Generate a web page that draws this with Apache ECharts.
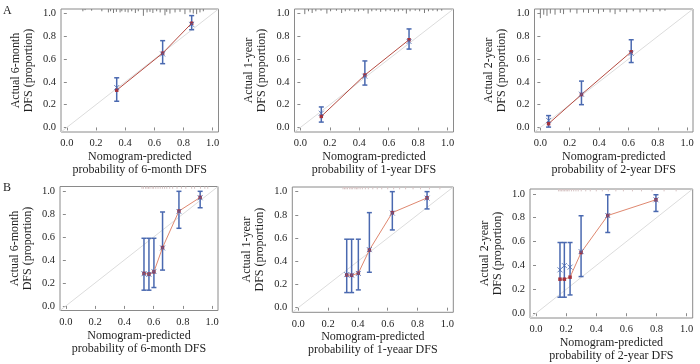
<!DOCTYPE html>
<html><head><meta charset="utf-8">
<script src="https://cdn.jsdelivr.net/npm/echarts@6/dist/echarts.min.js"></script>
<style>html,body{margin:0;padding:0;background:#fff}#c{width:700px;height:364px}</style>
</head><body><div id="c"></div>
<script>
// ---- tick labels / titles ----
const tickValues = [0, 0.2, 0.4, 0.6, 0.8, 1.0];
const axisRange = [-0.04, 1.04];
const yTitles = ['Actual 6-month\nDFS (proportion)', 'Actual 1-year\nDFS (proportion)', 'Actual 2-year\nDFS (proportion)',
                 'Actual 6-month\nDFS (proportion)', 'Actual 1-year\nDFS (proportion)', 'Actual 2-year\nDFS (proportion)'];
const xTitles = ['Nomogram-predicted\nprobability of 6-month DFS', 'Nomogram-predicted\nprobability of 1-year DFS', 'Nomogram-predicted\nprobability of 2-year DFS',
                 'Nomogram-predicted\nprobability of 6-month DFS', 'Nomogram-predicted\nprobability of 1-yeaar DFS', 'Nomogram-predicted\nprobability of 2-year DFS'];

// ---- A: 6-month ----
const a6Pred = [0.342, 0.657, 0.856];
const a6Obs  = [0.327, 0.652, 0.915];
const a6Corr = [0.350, 0.645, 0.905];
const a6Lo   = [0.230, 0.560, 0.858];
const a6Hi   = [0.436, 0.762, 0.982];
// ---- A: 1-year ----
const a1Pred = [0.142, 0.438, 0.738];
const a1Obs  = [0.097, 0.460, 0.770];
const a1Corr = [0.125, 0.450, 0.755];
const a1Lo   = [0.047, 0.372, 0.688];
const a1Hi   = [0.180, 0.584, 0.865];
// ---- A: 2-year ----
const a2Pred = [0.056, 0.280, 0.619];
const a2Obs  = [0.033, 0.289, 0.664];
const a2Corr = [0.062, 0.292, 0.652];
const a2Lo   = [0.003, 0.200, 0.570];
const a2Hi   = [0.104, 0.407, 0.770];
// ---- B: 6-month ----
const b6Pred = [0.534, 0.568, 0.602, 0.661, 0.773, 0.918];
const b6Obs  = [0.283, 0.277, 0.297, 0.508, 0.826, 0.945];
const b6Corr = [0.280, 0.275, 0.300, 0.505, 0.822, 0.942];
const b6Lo   = [0.137, 0.137, 0.160, 0.312, 0.676, 0.855];
const b6Hi   = [0.589, 0.589, 0.589, 0.818, 0.998, 0.998];
// ---- B: 1-year ----
const b1Pred = [0.325, 0.358, 0.403, 0.477, 0.631, 0.864];
const b1Obs  = [0.282, 0.279, 0.297, 0.497, 0.819, 0.946];
const b1Corr = [0.285, 0.280, 0.295, 0.500, 0.815, 0.944];
const b1Lo   = [0.130, 0.130, 0.153, 0.305, 0.670, 0.851];
const b1Hi   = [0.590, 0.590, 0.590, 0.819, 1.000, 1.000];
// ---- B: 2-year ----
const b2Pred = [0.159, 0.188, 0.226, 0.299, 0.476, 0.796];
const b2Obs  = [0.285, 0.285, 0.302, 0.508, 0.818, 0.950];
const b2Corr = [0.363, 0.399, 0.386, 0.516, 0.818, 0.950];
const b2Lo   = [0.134, 0.134, 0.153, 0.307, 0.676, 0.852];
const b2Hi   = [0.592, 0.592, 0.592, 0.816, 0.992, 0.992];

// ---- rug / frequency spikes at top: [predicted, spike length] ----
const rugA6 = [[0.11,0.02],[0.125,0.01],[0.17,0.015],[0.24,0.02],[0.285,0.03],[0.30,0.02],[0.32,0.035],[0.34,0.025],[0.365,0.03],[0.377,0.02],
  [0.40,0.025],[0.42,0.03],[0.445,0.02],[0.47,0.035],[0.49,0.02],[0.525,0.06],[0.55,0.03],[0.57,0.025],[0.59,0.035],[0.616,0.02],
  [0.64,0.03],[0.673,0.055],[0.685,0.025],[0.707,0.04],[0.742,0.03],[0.776,0.025],[0.81,0.045],[0.845,0.03],[0.867,0.04],[0.89,0.045],[0.913,0.03],[0.936,0.02]];
const rugA1 = [[0.03,0.045],[0.055,0.02],[0.08,0.035],[0.105,0.02],[0.14,0.015],[0.18,0.04],[0.205,0.02],[0.245,0.015],[0.28,0.035],[0.305,0.02],
  [0.335,0.015],[0.37,0.025],[0.395,0.02],[0.43,0.015],[0.46,0.04],[0.485,0.02],[0.515,0.015],[0.545,0.025],[0.58,0.02],[0.61,0.015],
  [0.64,0.025],[0.665,0.02],[0.695,0.015],[0.72,0.04],[0.745,0.02],[0.78,0.015],[0.81,0.02],[0.843,0.035],[0.87,0.02],[0.9,0.015],[0.93,0.02],[0.96,0.015]];
const rugA2 = [[0.0,0.08],[0.023,0.05],[0.045,0.06],[0.068,0.04],[0.10,0.05],[0.136,0.035],[0.158,0.045],[0.204,0.03],[0.249,0.04],[0.294,0.03],
  [0.328,0.035],[0.362,0.025],[0.396,0.04],[0.43,0.025],[0.475,0.03],[0.509,0.045],[0.543,0.025],[0.588,0.03],[0.633,0.02],[0.679,0.03],
  [0.724,0.02],[0.769,0.025],[0.815,0.02],[0.849,0.015]];
const rugB6 = [[0.52,0.02],[0.53,0.02],[0.545,0.02],[0.555,0.02],[0.565,0.02],[0.575,0.02],[0.59,0.02],[0.60,0.02],[0.615,0.02],[0.63,0.02],
  [0.645,0.02],[0.66,0.02],[0.675,0.02],[0.69,0.02],[0.71,0.02],[0.73,0.02],[0.76,0.02],[0.79,0.02],[0.82,0.02],[0.86,0.02],[0.88,0.02],[0.92,0.02],[0.95,0.02],[0.97,0.02]];
const rugB1 = [[0.30,0.02],[0.31,0.02],[0.32,0.02],[0.33,0.02],[0.345,0.02],[0.355,0.02],[0.365,0.02],[0.38,0.02],[0.39,0.02],[0.40,0.02],
  [0.415,0.02],[0.43,0.02],[0.45,0.02],[0.47,0.02],[0.50,0.02],[0.53,0.02],[0.56,0.02],[0.60,0.02],[0.64,0.02],[0.68,0.02],[0.72,0.02],[0.77,0.02],[0.82,0.02],[0.88,0.02],[0.95,0.02]];
const rugB2 = [[0.15,0.02],[0.16,0.02],[0.17,0.02],[0.18,0.02],[0.19,0.02],[0.20,0.02],[0.21,0.02],[0.22,0.02],[0.235,0.02],[0.25,0.02],
  [0.265,0.02],[0.28,0.02],[0.30,0.02],[0.33,0.02],[0.36,0.02],[0.40,0.02],[0.44,0.02],[0.48,0.02],[0.53,0.02],[0.58,0.02],[0.64,0.02],[0.70,0.02],[0.77,0.02],[0.85,0.02],[0.93,0.02]];

// ---- layout (px) ----
const grids = [
  {left: 61,    top: 9,   width: 157.5, height: 123},
  {left: 294.5, top: 9,   width: 159,   height: 123},
  {left: 534.5, top: 9,   width: 158.5, height: 123},
  {left: 60,    top: 186.5, width: 158,   height: 124},
  {left: 292.3, top: 187,   width: 161,   height: 125.3},
  {left: 530,   top: 189,   width: 162.7, height: 129}
];
const panels = [
  {pred:a6Pred, obs:a6Obs, corr:a6Corr, lo:a6Lo, hi:a6Hi, rug:rugA6, row:'A'},
  {pred:a1Pred, obs:a1Obs, corr:a1Corr, lo:a1Lo, hi:a1Hi, rug:rugA1, row:'A'},
  {pred:a2Pred, obs:a2Obs, corr:a2Corr, lo:a2Lo, hi:a2Hi, rug:rugA2, row:'A'},
  {pred:b6Pred, obs:b6Obs, corr:b6Corr, lo:b6Lo, hi:b6Hi, rug:rugB6, row:'B'},
  {pred:b1Pred, obs:b1Obs, corr:b1Corr, lo:b1Lo, hi:b1Hi, rug:rugB1, row:'B'},
  {pred:b2Pred, obs:b2Obs, corr:b2Corr, lo:b2Lo, hi:b2Hi, rug:rugB2, row:'B'}
];

const FONT = "'Liberation Serif','Times New Roman',serif";
const TXT = '#1e1e1e';
const BOX = '#8a8a8a';
const BLUE = '#4a69b0';

const chart = echarts.init(document.getElementById('c'), null, {renderer: 'canvas'});
const option = {
  backgroundColor: '#fff',
  animation: false,
  grid: grids.map(g => Object.assign({show: true, borderColor: BOX, borderWidth: 1, backgroundColor: 'transparent', containLabel: false}, g)),
  xAxis: [], yAxis: [], series: [],
  graphic: [
    {type: 'text', left: 3, top: 5, style: {text: 'A', font: "12px " + FONT, fill: TXT}},
    {type: 'text', left: 3, top: 182, style: {text: 'B', font: "12px " + FONT, fill: TXT}}
  ]
};

panels.forEach((p, i) => {
  const rowB = p.row === 'B';
  option.xAxis.push({
    gridIndex: i, type: 'value', min: axisRange[0], max: axisRange[1],
    axisLine: {show: false}, splitLine: {show: false},
    axisTick: {show: true, customValues: tickValues, length: 3, lineStyle: {color: BOX}},
    axisLabel: {customValues: tickValues, formatter: v => v.toFixed(1), margin: 6, fontFamily: FONT, fontSize: 10.5, color: TXT},
    name: xTitles[i], nameLocation: 'middle', nameGap: (i === 5 ? 17 : 18.5),
    nameTextStyle: {fontFamily: FONT, fontSize: 12, color: TXT, lineHeight: 13}
  });
  option.yAxis.push({
    gridIndex: i, type: 'value', min: axisRange[0], max: axisRange[1],
    axisLine: {show: false}, splitLine: {show: false},
    axisTick: {show: true, customValues: tickValues, length: 3, lineStyle: {color: BOX}},
    axisLabel: {customValues: tickValues, formatter: v => v.toFixed(1), margin: 5, fontFamily: FONT, fontSize: 10.5, color: TXT},
    name: yTitles[i], nameLocation: 'middle', nameGap: 26,
    nameTextStyle: {fontFamily: FONT, fontSize: 12, color: TXT, lineHeight: 13}
  });
  // ideal diagonal
  option.series.push({
    type: 'line', xAxisIndex: i, yAxisIndex: i, silent: true, symbol: 'none',
    data: [[axisRange[0], axisRange[0]], [axisRange[1], axisRange[1]]],
    lineStyle: {color: '#dcdcdc', width: 1}, z: 1
  });
  // rug spikes hanging from top
  option.series.push({
    type: 'custom', xAxisIndex: i, yAxisIndex: i, silent: true, z: 2,
    data: p.rug,
    renderItem: (params, api) => {
      const a = api.coord([api.value(0), axisRange[1]]);
      const b = api.coord([api.value(0), axisRange[1] - api.value(1)]);
      return {type: 'line', shape: {x1: a[0], y1: a[1], x2: b[0], y2: b[1]},
        style: {stroke: rowB ? '#d6c2c2' : '#7a7a7a', lineWidth: 1}};
    }
  });
  // error bars
  option.series.push({
    type: 'custom', xAxisIndex: i, yAxisIndex: i, silent: true, z: 3,
    encode: {x: 0, y: [1, 2]},
    data: p.pred.map((x, k) => [x, p.lo[k], p.hi[k]]),
    renderItem: (params, api) => {
      const x = api.value(0);
      const a = api.coord([x, api.value(1)]);
      const b = api.coord([x, api.value(2)]);
      const w = 2.5;
      const st = {stroke: BLUE, lineWidth: 1.5};
      return {type: 'group', children: [
        {type: 'line', shape: {x1: a[0], y1: a[1], x2: b[0], y2: b[1]}, style: st},
        {type: 'line', shape: {x1: a[0] - w, y1: a[1], x2: a[0] + w, y2: a[1]}, style: st},
        {type: 'line', shape: {x1: b[0] - w, y1: b[1], x2: b[0] + w, y2: b[1]}, style: st}
      ]};
    }
  });
  // observed (apparent) line with points
  option.series.push({
    type: 'line', xAxisIndex: i, yAxisIndex: i, silent: true, z: 4,
    data: p.pred.map((x, k) => [x, p.obs[k]]),
    symbol: 'rect', symbolSize: 3.5, showSymbol: true,
    itemStyle: {color: '#a2323e'},
    lineStyle: {color: rowB ? '#df8870' : '#b54a40', width: 1}
  });
  // bias-corrected estimates
  option.series.push({
    type: 'scatter', xAxisIndex: i, yAxisIndex: i, silent: true, z: 5,
    data: p.pred.map((x, k) => [x, p.corr[k]]),
    symbol: 'path://M0,0L10,10M10,0L0,10', symbolSize: 5,
    itemStyle: {color: 'rgba(0,0,0,0)', borderColor: BLUE, borderWidth: 1}
  });
});

chart.setOption(option);
</script>
</body></html>
